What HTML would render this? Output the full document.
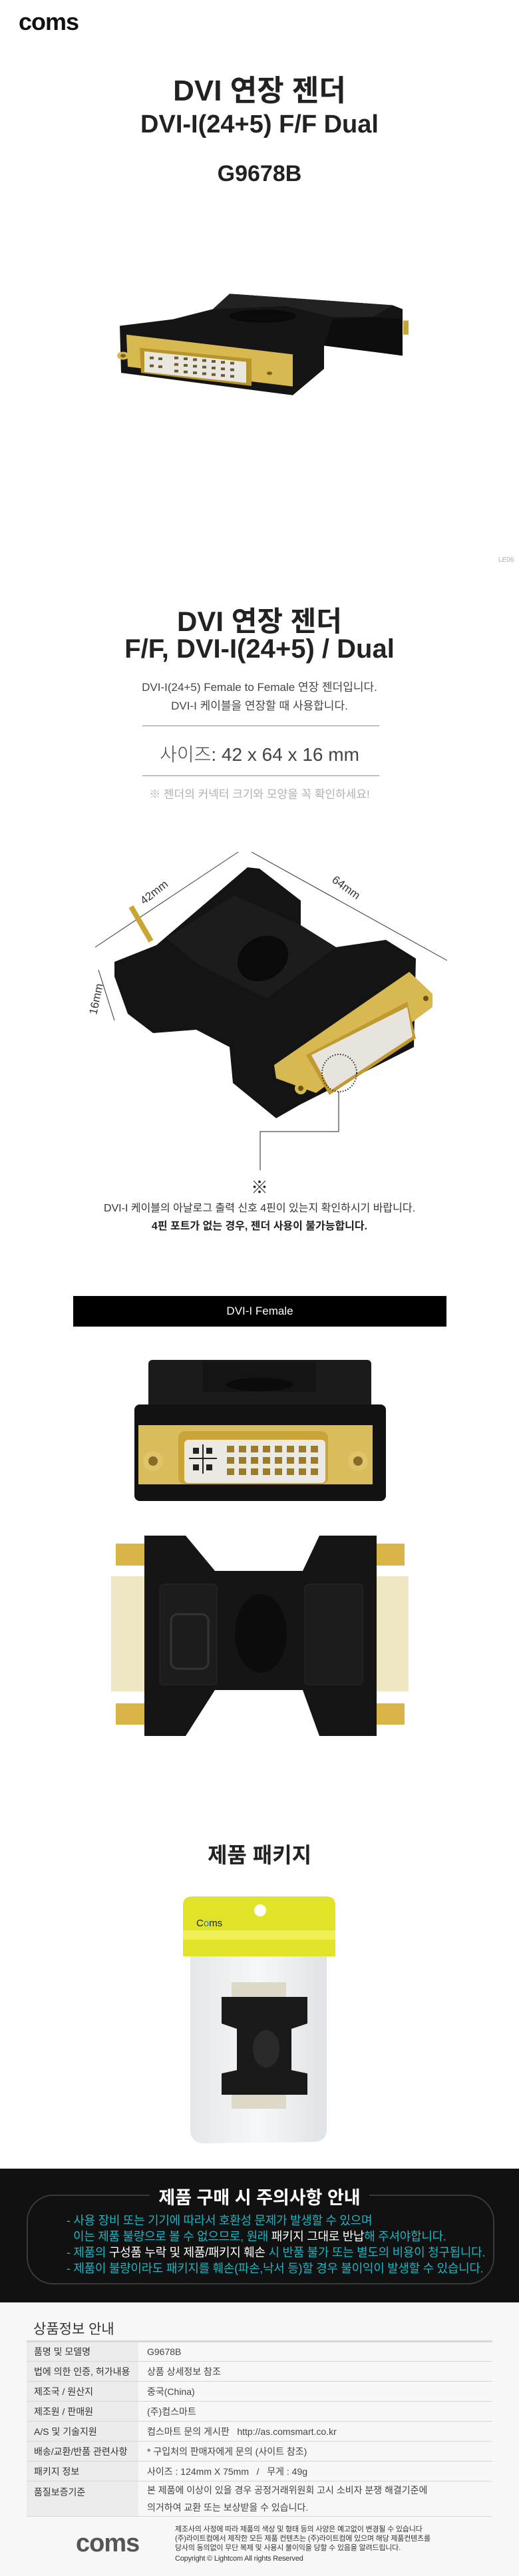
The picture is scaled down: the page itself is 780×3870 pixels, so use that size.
<!DOCTYPE html>
<html><head><meta charset="utf-8">
<style>
*{margin:0;padding:0;box-sizing:border-box}
body{width:780px;height:3870px;position:relative;background:#fff;font-family:"Liberation Sans","Noto Sans CJK KR",sans-serif;color:#222;overflow:hidden}
.a{position:absolute}
.c{position:absolute;left:0;width:780px;text-align:center;white-space:nowrap}
.n{font-family:"Liberation Sans Narrow","Liberation Sans","Noto Sans CJK KR",sans-serif}
.k{font-family:"Liberation Sans","Noto Sans CJK KR",sans-serif}
.hr{position:absolute;left:214px;width:356px;height:1px;background:#888}
.tl{position:absolute;left:100px;font-size:18px;white-space:nowrap;color:#20b3c0;letter-spacing:-0.3px}
.tl b{color:#fff;font-weight:normal}
table{border-collapse:collapse}
td{height:30px;font-size:14px;color:#444;border-bottom:1px solid #d6d6d6;padding:0 0 0 11px;vertical-align:middle;white-space:nowrap}
td.l{background:#ececec;width:168px;color:#333}
td.v{padding-left:13px}
.ft{position:absolute;left:263px;font-size:11px;color:#333;white-space:nowrap;letter-spacing:-0.2px}
</style></head><body>

<div class="a" style="left:28px;top:12px;font-size:36px;font-weight:bold;letter-spacing:-1px;color:#111">coms</div>

<div class="c k" style="top:100px;font-size:44px;font-weight:bold;color:#222">DVI 연장 젠더</div>
<div class="c n" style="top:166px;font-size:38px;font-weight:bold;color:#222">DVI-I(24+5) F/F Dual</div>
<div class="c n" style="top:242px;font-size:34px;font-weight:bold;color:#222">G9678B</div>

<!-- product 1 -->
<svg class="a" style="left:0;top:430px" width="780" height="260" viewBox="0 430 780 260">
<g transform="translate(0,440) scale(1,0.66) translate(0,-440)">
 <polygon points="180,515 260,500 320,477 345,442 590,468 605,477 605,583 575,577 487,560 487,613 440,673 182,622" fill="#151515"/>
 <polygon points="320,477 345,442 590,468 560,495 500,495 430,470" fill="#222"/>
 <polygon points="487,560 575,577 605,583 605,500 560,495 500,500" fill="#0d0d0d"/>
 <ellipse cx="395" cy="493" rx="50" ry="15" fill="#0a0a0a"/>
 <rect x="606" y="503" width="8" height="32" fill="#c9a634"/>
 <polygon points="190,535 440,580 440,653 192,608" fill="#d8b850"/>
 <polygon points="210,565 378,590 378,652 212,622" fill="#b8952a"/>
 <polygon points="217,573 370,597 370,645 217,620" fill="#e8e6de"/>
 <g fill="#6a5a30">
  <rect x="262" y="585" width="6" height="6"/><rect x="276" y="587" width="6" height="6"/><rect x="290" y="589" width="6" height="6"/><rect x="304" y="591" width="6" height="6"/><rect x="318" y="593" width="6" height="6"/><rect x="332" y="595" width="6" height="6"/><rect x="346" y="597" width="6" height="6"/>
  <rect x="262" y="600" width="6" height="6"/><rect x="276" y="602" width="6" height="6"/><rect x="290" y="604" width="6" height="6"/><rect x="304" y="606" width="6" height="6"/><rect x="318" y="608" width="6" height="6"/><rect x="332" y="610" width="6" height="6"/><rect x="346" y="612" width="6" height="6"/>
  <rect x="262" y="615" width="6" height="6"/><rect x="276" y="617" width="6" height="6"/><rect x="290" y="619" width="6" height="6"/><rect x="304" y="621" width="6" height="6"/><rect x="318" y="623" width="6" height="6"/><rect x="332" y="625" width="6" height="6"/><rect x="346" y="627" width="6" height="6"/>
  <rect x="225" y="585" width="6" height="6"/><rect x="238" y="587" width="6" height="6"/><rect x="225" y="603" width="6" height="6"/><rect x="238" y="605" width="6" height="6"/>
 </g>
 <circle cx="185" cy="583" r="9" fill="#d9b948"/><circle cx="185" cy="583" r="4" fill="#7a6020"/>
 <circle cx="405" cy="623" r="9" fill="#d9b948"/><circle cx="405" cy="623" r="4" fill="#7a6020"/>
</g>
</svg>

<div class="a" style="left:749px;top:836px;font-size:10px;color:#aaa">LE06</div>

<div class="c k" style="top:900px;font-size:42px;font-weight:bold;color:#222">DVI 연장 젠더</div>
<div class="c n" style="top:953px;font-size:40px;font-weight:bold;color:#222">F/F, DVI-I(24+5) / Dual</div>
<div class="c k" style="top:1018px;font-size:17px;color:#444">DVI-I(24+5) Female to Female 연장 젠더입니다.</div>
<div class="c k" style="top:1046px;font-size:17px;color:#444">DVI-I 케이블을 연장할 때 사용합니다.</div>
<div class="hr" style="top:1090px"></div>
<div class="c k" style="top:1112px;font-size:28px;color:#444;font-weight:300">사이즈: 42 x 64 x 16 mm</div>
<div class="hr" style="top:1165px"></div>
<div class="c k" style="top:1179px;font-size:17px;color:#b0b0b0">※ 젠더의 커넥터 크기와 모양을 꼭 확인하세요!</div>

<!-- diagram -->
<svg class="a" style="left:0;top:1270px" width="780" height="500" viewBox="0 1270 780 500">
 <line x1="143" y1="1423" x2="358" y2="1280" stroke="#333" stroke-width="1"/>
 <line x1="378" y1="1280" x2="672" y2="1443" stroke="#333" stroke-width="1"/>
 <line x1="148" y1="1457" x2="172" y2="1533" stroke="#333" stroke-width="1"/>
 <text x="235" y="1345" font-size="17" fill="#333" font-family="Liberation Sans" transform="rotate(-38 235 1345)" text-anchor="middle">42mm</text>
 <text x="517" y="1338" font-size="17" fill="#333" font-family="Liberation Sans" transform="rotate(36 517 1338)" text-anchor="middle">64mm</text>
 <text x="150" y="1502" font-size="17" fill="#333" font-family="Liberation Sans" transform="rotate(-78 150 1502)" text-anchor="middle">16mm</text>
 <polygon points="172,1445 235,1420 372,1303 390,1305 452,1353 452,1390 505,1423 580,1412 625,1440 622,1573 450,1660 415,1680 350,1627 345,1573 295,1547 230,1552 192,1523 172,1467" fill="#141414"/>
 <polygon points="250,1410 352,1345 452,1390 505,1423 400,1500 300,1450" fill="#1c1c1c"/>
 <ellipse cx="395" cy="1440" rx="40" ry="32" fill="#0a0a0a" transform="rotate(-30 395 1440)"/>
 <rect x="208" y="1358" width="8" height="60" fill="#c9a634" transform="rotate(-30 212 1388)"/>
 <polygon points="412,1600 615,1460 650,1493 650,1513 475,1642 415,1620" fill="#d8b850"/>
 <polygon points="460,1585 612,1505 625,1560 495,1645" fill="#c09a30"/>
 <polygon points="468,1585 612,1513 620,1557 497,1638" fill="#e6e4dc"/>
 <circle cx="452" cy="1635" r="9" fill="#d9b948"/><circle cx="452" cy="1635" r="4" fill="#6a5220"/>
 <circle cx="640" cy="1500" r="9" fill="#d9b948"/><circle cx="640" cy="1500" r="4" fill="#6a5220"/>
 <ellipse cx="510" cy="1612" rx="26" ry="28" fill="none" stroke="#222" stroke-width="2" stroke-dasharray="1.5 2.5"/>
 <polyline points="509,1640 509,1700 391,1700 391,1758" fill="none" stroke="#222" stroke-width="1"/>
</svg>

<div class="c k" style="top:1764px;font-size:26px;color:#222">※</div>
<div class="c k" style="top:1801px;font-size:16px;color:#333">DVI-I 케이블의 아날로그 출력 신호 4핀이 있는지 확인하시기 바랍니다.</div>
<div class="c k" style="top:1828px;font-size:16px;color:#222;font-weight:bold">4핀 포트가 없는 경우, 젠더 사용이 불가능합니다.</div>

<div class="a" style="left:110px;top:1947px;width:561px;height:46px;background:#000;color:#fff;font-size:17px;text-align:center;line-height:46px">DVI-I Female</div>

<svg class="a" style="left:0;top:2030px" width="780" height="600" viewBox="0 2030 780 600">
 <rect x="223" y="2043" width="335" height="80" rx="6" fill="#1b1b1b"/>
 <rect x="305" y="2046" width="170" height="45" fill="#141414"/>
 <ellipse cx="390" cy="2080" rx="50" ry="10" fill="#0b0b0b"/>
 <rect x="202" y="2110" width="378" height="145" rx="8" fill="#121212"/>
 <rect x="208" y="2141" width="352" height="89" fill="#d9bd5c"/>
 <rect x="268" y="2150" width="225" height="80" rx="10" fill="#c9a43a"/>
 <rect x="277" y="2163" width="212" height="65" rx="6" fill="#ebe9e2"/>
 <g fill="#9c7c28">
  <rect x="341" y="2172" width="11" height="10"/><rect x="359" y="2172" width="11" height="10"/><rect x="377" y="2172" width="11" height="10"/><rect x="395" y="2172" width="11" height="10"/><rect x="413" y="2172" width="11" height="10"/><rect x="431" y="2172" width="11" height="10"/><rect x="449" y="2172" width="11" height="10"/><rect x="467" y="2172" width="11" height="10"/>
  <rect x="341" y="2189" width="11" height="10"/><rect x="359" y="2189" width="11" height="10"/><rect x="377" y="2189" width="11" height="10"/><rect x="395" y="2189" width="11" height="10"/><rect x="413" y="2189" width="11" height="10"/><rect x="431" y="2189" width="11" height="10"/><rect x="449" y="2189" width="11" height="10"/><rect x="467" y="2189" width="11" height="10"/>
  <rect x="341" y="2206" width="11" height="10"/><rect x="359" y="2206" width="11" height="10"/><rect x="377" y="2206" width="11" height="10"/><rect x="395" y="2206" width="11" height="10"/><rect x="413" y="2206" width="11" height="10"/><rect x="431" y="2206" width="11" height="10"/><rect x="449" y="2206" width="11" height="10"/><rect x="467" y="2206" width="11" height="10"/>
 </g>
 <g fill="#222"><rect x="290" y="2175" width="9" height="9"/><rect x="310" y="2175" width="9" height="9"/><rect x="290" y="2200" width="9" height="9"/><rect x="310" y="2200" width="9" height="9"/><rect x="284" y="2190" width="42" height="2"/><rect x="304" y="2170" width="2" height="44"/></g>
 <circle cx="230" cy="2195" r="15" fill="#e0c468"/><circle cx="230" cy="2195" r="7" fill="#8a6a28"/>
 <circle cx="538" cy="2195" r="15" fill="#e0c468"/><circle cx="538" cy="2195" r="7" fill="#8a6a28"/>

 <rect x="174" y="2319" width="43" height="33" fill="#d9b548"/><rect x="174" y="2559" width="43" height="32" fill="#d9b548"/>
 <rect x="566" y="2319" width="42" height="33" fill="#d9b548"/><rect x="566" y="2559" width="42" height="32" fill="#d9b548"/>
 <rect x="167" y="2368" width="52" height="173" fill="#efe6c4"/><rect x="565" y="2368" width="49" height="173" fill="#efe6c4"/>
 <polygon points="217,2307 279,2307 323,2360 455,2360 480,2307 566,2307 566,2608 480,2608 455,2539 323,2539 279,2608 217,2608" fill="#151515"/>
 <rect x="240" y="2380" width="86" height="151" rx="6" fill="#1c1c1c" stroke="#2a2a2a"/>
 <rect x="458" y="2380" width="87" height="151" rx="6" fill="#1c1c1c" stroke="#2a2a2a"/>
 <rect x="257" y="2425" width="56" height="82" rx="10" fill="none" stroke="#333" stroke-width="3"/>
 <ellipse cx="392" cy="2454" rx="39" ry="59" fill="#0c0c0c"/>
</svg>

<div class="c k" style="top:2762px;font-size:32px;font-weight:bold;color:#222">제품 패키지</div>

<svg class="a" style="left:0;top:2840px" width="780" height="400" viewBox="0 2840 780 400">
 <defs><linearGradient id="bag" x1="0" y1="0" x2="1" y2="0"><stop offset="0" stop-color="#e4e7ea"/><stop offset="0.5" stop-color="#f6f7f8"/><stop offset="1" stop-color="#dfe3e6"/></linearGradient></defs>
 <path d="M286,2939 L491,2939 L491,3200 Q490,3218 470,3218 L305,3220 Q286,3218 286,3200 Z" fill="url(#bag)"/>
 <path d="M275,2939 L275,2862 Q275,2849 290,2849 L490,2849 Q504,2849 504,2862 L504,2939 Z" fill="#e1e329"/>
 <rect x="275" y="2900" width="229" height="14" fill="#eef055"/>
 <circle cx="391" cy="2870" r="9" fill="#fff"/>
 <text x="295" y="2894" font-size="15" font-family="Liberation Sans" fill="#222">C<tspan fill="#1a7fd0">o</tspan>ms</text>
 <rect x="348" y="2978" width="82" height="24" fill="#ddd8c8"/>
 <rect x="348" y="3146" width="82" height="22" fill="#ddd8c8"/>
 <polygon points="333,3000 462,3000 462,3040 438,3048 438,3110 462,3115 462,3147 333,3147 333,3115 356,3110 356,3048 333,3040" fill="#1a1a1a"/>
 <ellipse cx="400" cy="3078" rx="20" ry="28" fill="#2a2a2a"/>
</svg>

<div class="a" style="left:0;top:3258px;width:780px;height:201px;background:#111"></div>
<div class="a" style="left:40px;top:3297px;width:703px;height:135px;border:2px solid #3a3a3a;border-radius:40px"></div>
<div class="a k" style="left:225px;top:3280px;width:330px;background:#111;text-align:center;font-size:27px;font-weight:bold;color:#fff;white-space:nowrap">제품 구매 시 주의사항 안내</div>
<div class="tl" style="top:3322px">- 사용 장비 또는 기기에 따라서 호환성 문제가 발생할 수 있으며</div>
<div class="tl" style="top:3346px;left:110px">이는 제품 불량으로 볼 수 없으므로, 원래 <b>패키지 그대로 반납</b>해 주셔야합니다.</div>
<div class="tl" style="top:3370px">- 제품의 <b>구성품 누락 및 제품/패키지 훼손</b> 시 반품 불가 또는 별도의 비용이 청구됩니다.</div>
<div class="tl" style="top:3394px">- 제품이 불량이라도 패키지를 훼손(파손,낙서 등)할 경우 불이익이 발생할 수 있습니다.</div>

<div class="a" style="left:0;top:3459px;width:780px;height:411px;background:#f7f7f7"></div>
<div class="a k" style="left:50px;top:3483px;font-size:21px;color:#333">상품정보 안내</div>
<table class="a k" style="left:40px;top:3516px;width:700px;border-top:3px solid #d8d8d8">
<tr><td class="l">품명 및 모델명</td><td class="v">G9678B</td></tr>
<tr><td class="l">법에 의한 인증, 허가내용</td><td class="v">상품 상세정보 참조</td></tr>
<tr><td class="l">제조국 / 원산지</td><td class="v">중국(China)</td></tr>
<tr><td class="l">제조원 / 판매원</td><td class="v">(주)컴스마트</td></tr>
<tr><td class="l">A/S 및 기술지원</td><td class="v">컴스마트 문의 게시판 &nbsp; http://as.comsmart.co.kr</td></tr>
<tr><td class="l">배송/교환/반품 관련사항</td><td class="v">* 구입처의 판매자에게 문의 (사이트 참조)</td></tr>
<tr><td class="l">패키지 정보</td><td class="v">사이즈 : 124mm X 75mm &nbsp; / &nbsp; 무게 : 49g</td></tr>
<tr><td class="l" style="height:51px;vertical-align:top;padding-top:6px">품질보증기준</td><td class="v" style="height:51px;line-height:26px">본 제품에 이상이 있을 경우 공정거래위원회 고시 소비자 분쟁 해결기준에<br>의거하여 교환 또는 보상받을 수 있습니다.</td></tr>
</table>
<div class="a" style="left:114px;top:3800px;font-size:38px;font-weight:bold;color:#555;letter-spacing:-1px">coms</div>
<div class="ft k" style="top:3791px">제조사의 사정에 따라 제품의 색상 및 형태 등의 사양은 예고없이 변경될 수 있습니다</div>
<div class="ft k" style="top:3805px">(주)라이트컴에서 제작한 모든 제품 컨텐츠는 (주)라이트컴에 있으며 해당 제품컨텐츠를</div>
<div class="ft k" style="top:3819px">당사의 동의없이 무단 복제 및 사용시 불이익을 당할 수 있음을 알려드립니다.</div>
<div class="ft k" style="top:3838px">Copyright © Lightcom All rights Reserved</div>
</body></html>
